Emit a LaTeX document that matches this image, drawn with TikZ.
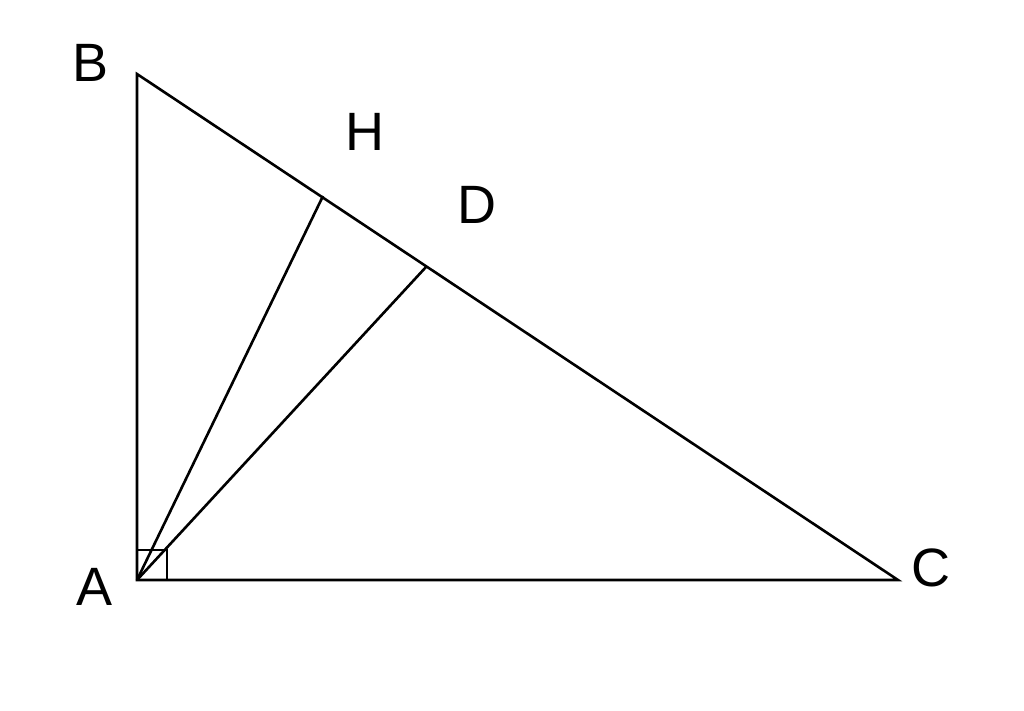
\documentclass[tikz,border=0pt]{standalone}
\usepackage{fontspec}
\setmainfont{Liberation Sans}
\begin{document}
\begin{tikzpicture}[x=1pt,y=-1pt,line width=2.6pt,
  lbl/.style={font=\fontsize{54}{60}\selectfont,inner sep=0pt}]
\useasboundingbox (0,0) rectangle (1024,711);
\coordinate (A) at (137,580);
\coordinate (B) at (137,74);
\coordinate (C) at (898,580);
\coordinate (H) at (323,196);
\coordinate (D) at (426,267);
\draw[line join=miter] (B) -- (A) -- (C) -- cycle;
\draw (A) -- (H);
\draw (A) -- (D);
\draw (A) rectangle ++(30,-30);
\node[lbl] (lB) at (91,63) {B};
\node[lbl] (lA) at (95,587) {A};
\node[lbl] (lH) at (365,132) {H};
\node[lbl] (lD) at (477,205) {D};
\node[lbl] (lC) at (931,568) {C};
\end{tikzpicture}
\end{document}
